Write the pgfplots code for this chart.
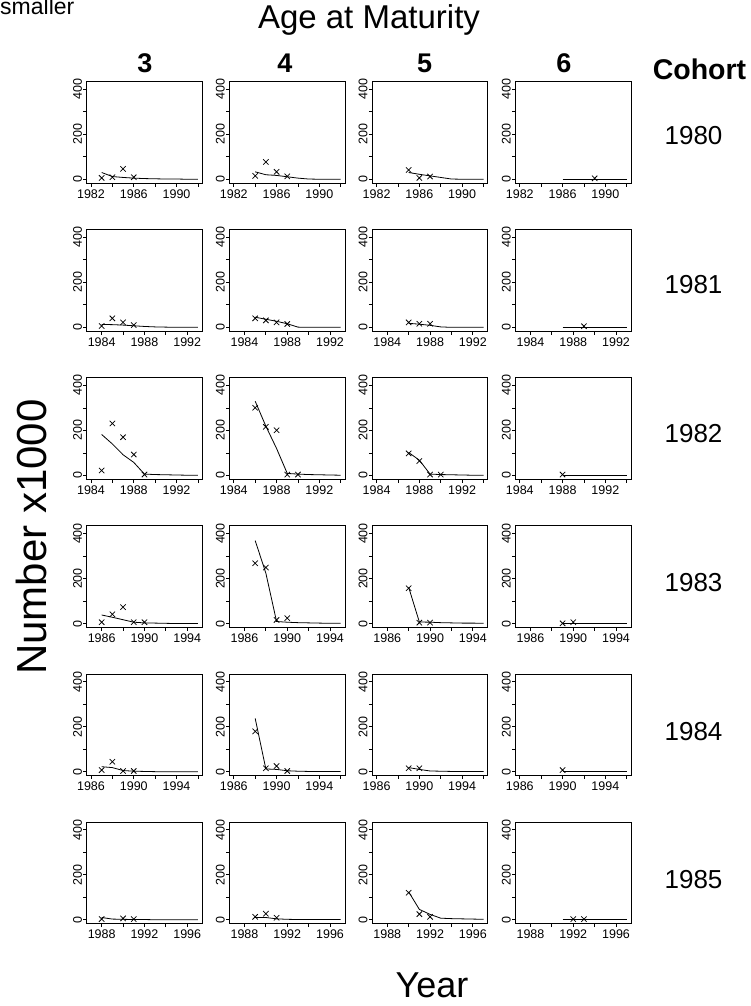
\documentclass[border=0pt]{standalone}
\usepackage{fontspec}
\setmainfont{Liberation Sans}
\usepackage{pgfplots}
\pgfplotsset{compat=1.18}

\pgfplotsset{
  panel/.style={
    scale only axis, width=115.5pt, height=101.4pt, anchor=north west,
    ymin=-16.7, ymax=434,
    ytick={0,200,400}, minor ytick={100,300},
    tick align=outside, xtick pos=left, ytick pos=left,
    major tick length=3.5pt, minor tick length=3.5pt,
    tick style={black, line width=0.8pt},
    axis line style={line width=0.9pt},
    tick label style={font=\fontsize{12.5}{14}\selectfont},
    yticklabel style={rotate=90, anchor=south, inner sep=1pt},
    xticklabel style={inner sep=1pt, yshift=-2pt},
    /pgf/number format/1000 sep={},
    /pgf/number format/assume math mode=true,
  },
  fit/.style={black, line width=0.8pt, no marks},
  obs/.style={black, only marks, mark=x, mark size=3.8pt, mark options={line width=0.75pt}},
  r1/.style={xmin=1981.6, xmax=1992.4, xtick={1982,1986,1990}, minor xtick={1984,1988,1992}},
  r2/.style={xmin=1982.6, xmax=1993.4, xtick={1984,1988,1992}, minor xtick={1986,1990}},
  r3/.style={xmin=1983.6, xmax=1994.4, xtick={1984,1988,1992}, minor xtick={1986,1990,1994}},
  r4/.style={xmin=1984.6, xmax=1995.4, xtick={1986,1990,1994}, minor xtick={1988,1992}},
  r5/.style={xmin=1985.6, xmax=1996.4, xtick={1986,1990,1994}, minor xtick={1988,1992,1996}},
  r6/.style={xmin=1986.6, xmax=1997.4, xtick={1988,1992,1996}, minor xtick={1990,1994}},
}

\begin{document}
\begin{tikzpicture}
\path[use as bounding box] (0,0) rectangle (751pt,-1006pt);

% titles
\node[anchor=base west, inner sep=0pt, font=\fontsize{23}{26}\selectfont] at (0pt,-15pt) {smaller};
\node[font=\fontsize{33}{38}\selectfont] at (369pt,-20pt) {Age at Maturity};
\node[font=\bfseries\fontsize{27}{30}\selectfont] at (145pt,-63pt) {3};
\node[font=\bfseries\fontsize{27}{30}\selectfont] at (285pt,-63pt) {4};
\node[font=\bfseries\fontsize{27}{30}\selectfont] at (424.7pt,-63pt) {5};
\node[font=\bfseries\fontsize{27}{30}\selectfont] at (564pt,-63pt) {6};
\node[font=\bfseries\fontsize{28.5}{32}\selectfont] at (699.5pt,-69pt) {Cohort};
\node[font=\fontsize{26}{30}\selectfont] at (693.5pt,-136pt) {1980};
\node[font=\fontsize{26}{30}\selectfont] at (693.5pt,-284.8pt) {1981};
\node[font=\fontsize{26}{30}\selectfont] at (693.5pt,-433.6pt) {1982};
\node[font=\fontsize{26}{30}\selectfont] at (693.5pt,-582.4pt) {1983};
\node[font=\fontsize{26}{30}\selectfont] at (693.5pt,-731.2pt) {1984};
\node[font=\fontsize{26}{30}\selectfont] at (693.5pt,-880pt) {1985};
\node[rotate=90, font=\fontsize{42}{48}\selectfont] at (31pt,-537pt) {Number x1000};
\node[font=\fontsize{36}{40}\selectfont] at (432pt,-985pt) {Year};

% cohort 1980
\begin{axis}[panel, r1, at={(86.7pt,-81.6pt)}]
\addplot[fit] coordinates {(1983,30)(1984,12)(1985,8)(1986,5)(1987,3)(1988,2)(1989,1)(1990,1)(1991,0)(1992,0)};
\addplot[obs] coordinates {(1983,6)(1984,9)(1985,46)(1986,9)};
\end{axis}
\begin{axis}[panel, r1, at={(229.5pt,-81.6pt)}]
\addplot[fit] coordinates {(1984,33)(1985,20)(1986,17)(1987,11)(1988,5)(1989,1)(1990,0)(1991,0)(1992,0)};
\addplot[obs] coordinates {(1984,15)(1985,77)(1986,33)(1987,13)};
\end{axis}
\begin{axis}[panel, r1, at={(372.3pt,-81.6pt)}]
\addplot[fit] coordinates {(1985,30)(1986,22)(1987,15)(1988,8)(1989,1)(1990,0)(1991,0)(1992,0)};
\addplot[obs] coordinates {(1985,41)(1986,6)(1987,12)};
\end{axis}
\begin{axis}[panel, r1, at={(515.5pt,-81.6pt)}]
\addplot[fit] coordinates {(1986,0)(1987,0)(1988,0)(1989,0)(1990,0)(1991,0)(1992,0)};
\addplot[obs] coordinates {(1989,4)};
\end{axis}

% cohort 1981
\begin{axis}[panel, r2, at={(86.7pt,-229.7pt)}]
\addplot[fit] coordinates {(1984,13)(1985,12)(1986,10)(1987,7)(1988,4)(1989,2)(1990,1)(1991,0)(1992,0)(1993,0)};
\addplot[obs] coordinates {(1984,6)(1985,40)(1986,22)(1987,10)};
\end{axis}
\begin{axis}[panel, r2, at={(229.5pt,-229.7pt)}]
\addplot[fit] coordinates {(1985,45)(1986,36)(1987,27)(1988,16)(1989,1)(1990,0)(1991,0)(1992,0)(1993,0)};
\addplot[obs] coordinates {(1985,40)(1986,31)(1987,22)(1988,15)};
\end{axis}
\begin{axis}[panel, r2, at={(372.3pt,-229.7pt)}]
\addplot[fit] coordinates {(1986,18)(1987,14)(1988,9)(1989,2)(1990,0)(1991,0)(1992,0)(1993,0)};
\addplot[obs] coordinates {(1986,22)(1987,16)(1988,16)};
\end{axis}
\begin{axis}[panel, r2, at={(515.5pt,-229.7pt)}]
\addplot[fit] coordinates {(1987,0)(1988,0)(1989,0)(1990,0)(1991,0)(1992,0)(1993,0)};
\addplot[obs] coordinates {(1989,5)};
\end{axis}

% cohort 1982
\begin{axis}[panel, r3, at={(86.7pt,-377.8pt)}]
\addplot[fit] coordinates {(1985,182)(1986,140)(1987,92)(1988,58)(1989,6)(1990,4)(1991,3)(1992,2)(1993,1)(1994,1)};
\addplot[obs] coordinates {(1985,22)(1986,231)(1987,170)(1988,93)(1989,4)};
\end{axis}
\begin{axis}[panel, r3, at={(229.5pt,-377.8pt)}]
\addplot[fit] coordinates {(1986,330)(1987,219)(1988,120)(1989,9)(1990,6)(1991,4)(1992,3)(1993,2)(1994,1)};
\addplot[obs] coordinates {(1986,301)(1987,216)(1988,201)(1989,4)(1990,4)};
\end{axis}
\begin{axis}[panel, r3, at={(372.3pt,-377.8pt)}]
\addplot[fit] coordinates {(1987,102)(1988,68)(1989,6)(1990,4)(1991,3)(1992,2)(1993,1)(1994,1)};
\addplot[obs] coordinates {(1987,98)(1988,64)(1989,4)(1990,4)};
\end{axis}
\begin{axis}[panel, r3, at={(515.5pt,-377.8pt)}]
\addplot[fit] coordinates {(1988,0)(1989,0)(1990,0)(1991,0)(1992,0)(1993,0)(1994,0)};
\addplot[obs] coordinates {(1988,4)};
\end{axis}

% cohort 1983
\begin{axis}[panel, r4, at={(86.7pt,-525.9pt)}]
\addplot[fit] coordinates {(1986,38)(1987,28)(1988,17)(1989,6)(1990,3)(1991,2)(1992,1)(1993,0)(1994,0)(1995,0)};
\addplot[obs] coordinates {(1986,6)(1987,41)(1988,73)(1989,6)(1990,6)};
\end{axis}
\begin{axis}[panel, r4, at={(229.5pt,-525.9pt)}]
\addplot[fit] coordinates {(1987,369)(1988,224)(1989,9)(1990,6)(1991,4)(1992,3)(1993,2)(1994,1)(1995,1)};
\addplot[obs] coordinates {(1987,268)(1988,249)(1989,16)(1990,24)};
\end{axis}
\begin{axis}[panel, r4, at={(372.3pt,-525.9pt)}]
\addplot[fit] coordinates {(1988,161)(1989,7)(1990,6)(1991,4)(1992,3)(1993,2)(1994,2)(1995,1)};
\addplot[obs] coordinates {(1988,157)(1989,4)(1990,4)};
\end{axis}
\begin{axis}[panel, r4, at={(515.5pt,-525.9pt)}]
\addplot[fit] coordinates {(1989,0)(1990,0)(1991,0)(1992,0)(1993,0)(1994,0)(1995,0)};
\addplot[obs] coordinates {(1989,1)(1990,6)};
\end{axis}

% cohort 1984
\begin{axis}[panel, r5, at={(86.7pt,-674.0pt)}]
\addplot[fit] coordinates {(1987,22)(1988,18)(1989,5)(1990,2)(1991,1)(1992,0)(1993,0)(1994,0)(1995,0)(1996,0)};
\addplot[obs] coordinates {(1987,7)(1988,44)(1989,3)(1990,3)};
\end{axis}
\begin{axis}[panel, r5, at={(229.5pt,-674.0pt)}]
\addplot[fit] coordinates {(1988,237)(1989,12)(1990,10)(1991,4)(1992,2)(1993,1)(1994,1)(1995,1)(1996,1)};
\addplot[obs] coordinates {(1988,179)(1989,15)(1990,25)(1991,3)};
\end{axis}
\begin{axis}[panel, r5, at={(372.3pt,-674.0pt)}]
\addplot[fit] coordinates {(1989,18)(1990,10)(1991,3)(1992,2)(1993,1)(1994,1)(1995,1)(1996,1)};
\addplot[obs] coordinates {(1989,15)(1990,15)};
\end{axis}
\begin{axis}[panel, r5, at={(515.5pt,-674.0pt)}]
\addplot[fit] coordinates {(1990,0)(1991,0)(1992,0)(1993,0)(1994,0)(1995,0)(1996,0)};
\addplot[obs] coordinates {(1990,7)};
\end{axis}

% cohort 1985
\begin{axis}[panel, r6, at={(86.7pt,-822.1pt)}]
\addplot[fit] coordinates {(1988,10)(1989,3)(1990,2)(1991,1)(1992,1)(1993,0)(1994,0)(1995,0)(1996,0)(1997,0)};
\addplot[obs] coordinates {(1988,3)(1990,6)(1991,3)};
\end{axis}
\begin{axis}[panel, r6, at={(229.5pt,-822.1pt)}]
\addplot[fit] coordinates {(1989,10)(1990,10)(1991,4)(1992,2)(1993,1)(1994,1)(1995,1)(1996,1)(1997,1)};
\addplot[obs] coordinates {(1989,13)(1990,27)(1991,9)};
\end{axis}
\begin{axis}[panel, r6, at={(372.3pt,-822.1pt)}]
\addplot[fit] coordinates {(1990,124)(1991,46)(1992,24)(1993,7)(1994,5)(1995,4)(1996,3)(1997,2)};
\addplot[obs] coordinates {(1990,120)(1991,25)(1992,13)};
\end{axis}
\begin{axis}[panel, r6, at={(515.5pt,-822.1pt)}]
\addplot[fit] coordinates {(1991,0)(1992,0)(1993,0)(1994,0)(1995,0)(1996,0)(1997,0)};
\addplot[obs] coordinates {(1992,3)(1993,3)};
\end{axis}
\end{tikzpicture}
\end{document}
